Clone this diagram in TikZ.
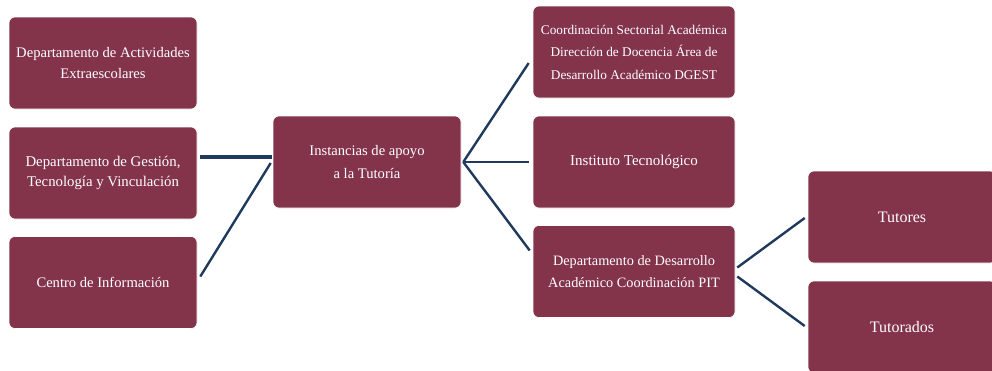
\documentclass[tikz,border=0pt]{standalone}
\usepackage{fontspec}
\setmainfont{Liberation Serif}
\definecolor{boxfill}{RGB}{131,52,74}
\definecolor{linkcol}{RGB}{31,58,92}
\begin{document}
\begin{tikzpicture}[x=1pt,y=-1pt,
  box/.style={draw=white, line width=0.6pt, fill=boxfill, rounded corners=6pt, minimum width=188pt, minimum height=92pt, inner sep=0pt, text=white, font=\fontsize{14.6}{20.5}\selectfont, align=center},
  wbox/.style={box, minimum width=202pt},
  link/.style={draw=linkcol, line width=2.4pt},
  thick link/.style={draw=linkcol, line width=3.4pt}]
\useasboundingbox (0,0) rectangle (992,370);
\clip (0,0) rectangle (992,370);
\fill[white] (0,0) rectangle (992,370);
\node[box] (l1) at (103,63) {Departamento de Actividades\\Extraescolares};
\node[box, font=\fontsize{14.8}{19.5}\selectfont] (l2) at (103,173) {Departamento de Gestión,\\Tecnología y Vinculación};
\node[box] (l3) at (103,282.5) {Centro de Información};
\node[box, font=\fontsize{14.6}{23}\selectfont] (c) at (367,162) {Instancias de apoyo\\a la Tutoría};
\node[wbox, font=\fontsize{13.3}{22.5}\selectfont] (ra) at (634,52) {Coordinación Sectorial Académica\\Dirección de Docencia Área de\\Desarrollo Académico DGEST};
\node[wbox, font=\fontsize{15}{20}\selectfont] (rb) at (634,162) {Instituto Tecnológico};
\node[wbox, font=\fontsize{14.3}{22.5}\selectfont] (rc) at (634,271.5) {Departamento de Desarrollo\\Académico Coordinación PIT};
\node[box, font=\fontsize{16}{20}\selectfont] (t1) at (902,217) {Tutores};
\node[box, font=\fontsize{16}{20}\selectfont] (t2) at (902,327) {Tutorados};
% left connectors
\draw[thick link] ([xshift=3pt,yshift=16pt]l2.east) -- ([xshift=-1pt,yshift=5pt]c.west);
\draw[link] ([xshift=3pt,yshift=6pt]l3.east) -- ([xshift=-2pt,yshift=-1pt]c.west);
% right connectors
\draw[link] ([xshift=2pt]c.east) -- ([xshift=-4pt,yshift=-11pt]ra.west);
\draw[link] ([xshift=2pt]c.east) -- ([xshift=-4pt]rb.west);
\draw[link] ([xshift=2pt]c.east) -- ([xshift=-3pt,yshift=21pt]rc.west);
% far right connectors
\draw[link] ([xshift=2pt,yshift=4pt]rc.east) -- ([xshift=-3pt,yshift=-1pt]t1.west);
\draw[link] ([xshift=2pt,yshift=-5pt]rc.east) -- ([xshift=-3pt,yshift=1pt]t2.west);
\end{tikzpicture}
\end{document}
